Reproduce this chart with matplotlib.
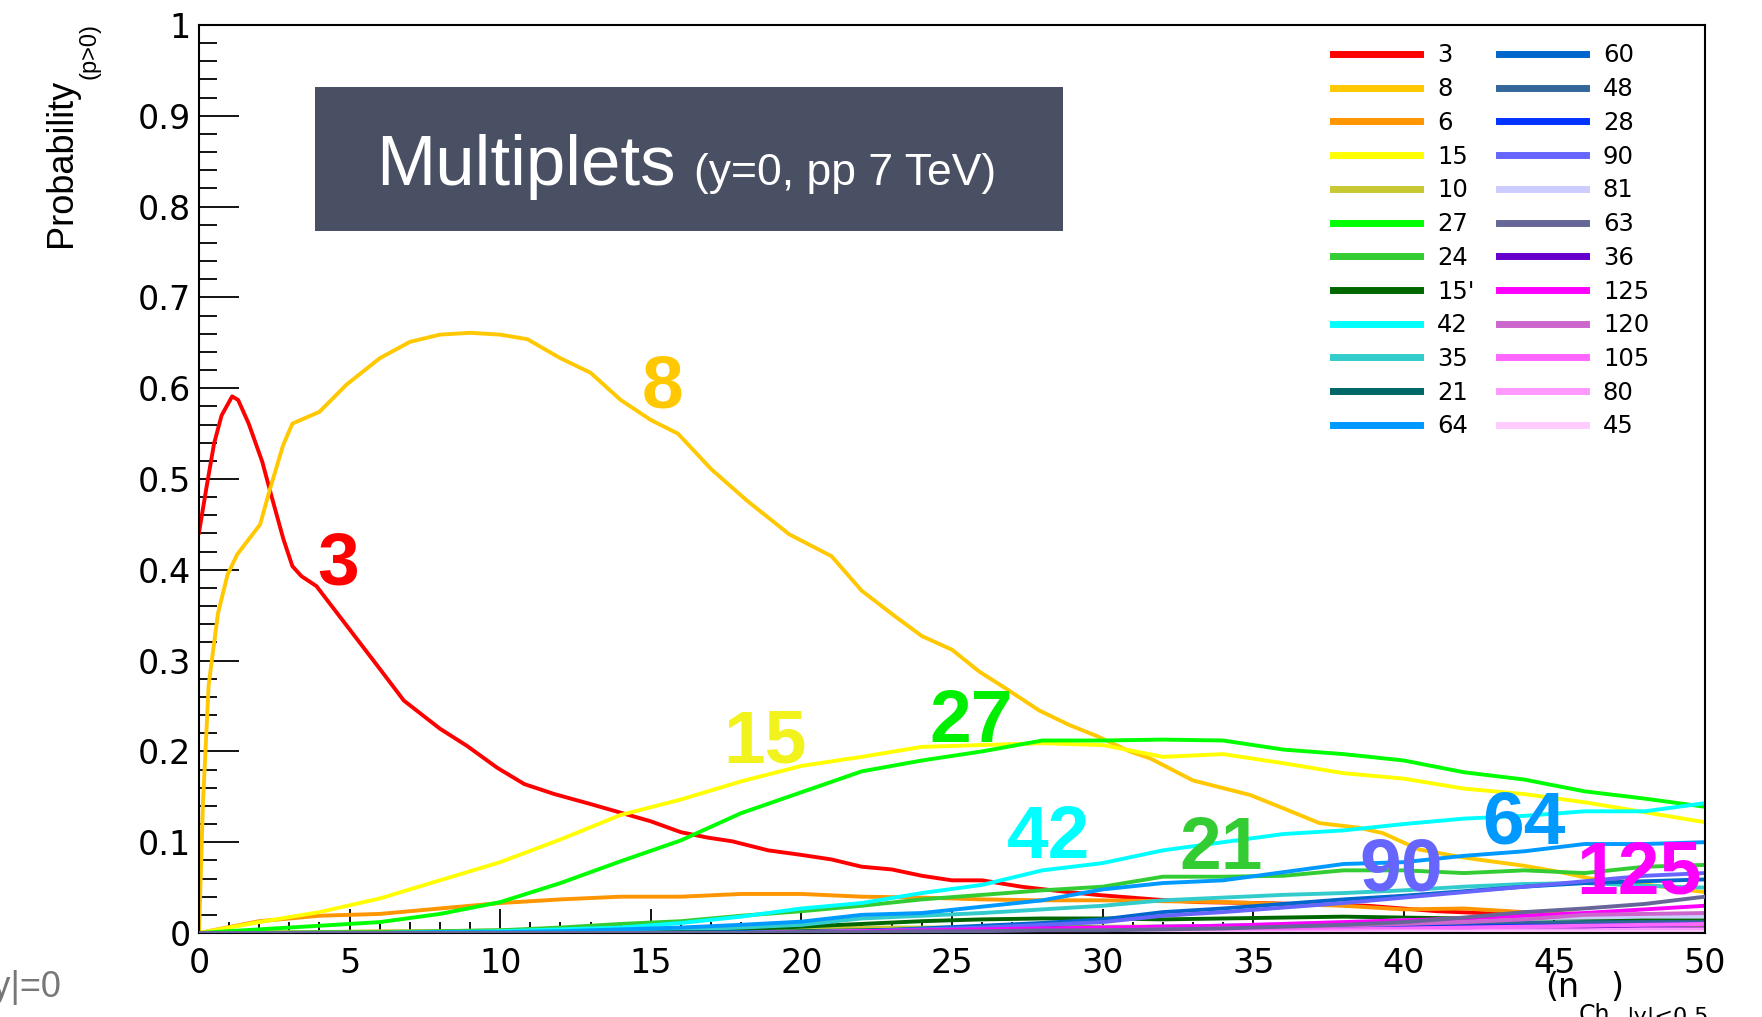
import matplotlib
matplotlib.use("Agg")
import matplotlib.pyplot as plt
from matplotlib.patches import Rectangle
from matplotlib.ticker import MultipleLocator, FormatStrFormatter

plt.rcParams['font.family'] = ['Liberation Sans', 'DejaVu Sans']

# ---- data ----
x_3 = [0, 0.25, 0.5, 0.75, 1.1, 1.3, 1.65, 2.1, 2.4, 2.8, 3.1, 3.4, 3.9, 4.8, 6, 6.8, 8, 8.9,
       9.9, 10.8, 11.8, 13, 15, 16, 16.9, 17.7, 18.9, 20, 21, 22, 23, 24, 25, 26, 27.3, 28.6,
       29.8, 31.7, 33.2, 35.2, 38.8, 41.1, 44.7, 47, 50]
y_3 = [0.441, 0.491, 0.539, 0.57, 0.591, 0.587, 0.561, 0.519, 0.482, 0.434, 0.404, 0.393, 0.382,
       0.343, 0.291, 0.256, 0.225, 0.206, 0.182, 0.164, 0.153, 0.142, 0.123, 0.111, 0.105, 0.101,
       0.091, 0.086, 0.081, 0.073, 0.07, 0.063, 0.058, 0.058, 0.051, 0.046, 0.042, 0.037, 0.034,
       0.033, 0.03, 0.024, 0.019, 0.017, 0.016]

x_8 = [0, 0.13, 0.32, 0.63, 0.95, 1.27, 2.03, 2.34, 2.79, 3.1, 4.0, 4.9, 6.0, 7.0, 8.0, 9.0, 10.0,
       10.9, 12.0, 13.0, 14.0, 15.0, 15.9, 17.0, 18.2, 19.6, 21.0, 22.0, 23.1, 24.0, 25.0, 25.9,
       26.8, 27.9, 28.9, 29.8, 30.9, 31.6, 33.0, 34.9, 36.1, 37.2, 38.5, 39.3, 40.5, 42.0, 44.0,
       45.2, 46.2, 47.0, 48.8, 50]
y_8 = [0, 0.142, 0.273, 0.352, 0.395, 0.417, 0.45, 0.487, 0.537, 0.561, 0.574, 0.604, 0.633,
       0.651, 0.659, 0.661, 0.659, 0.654, 0.633, 0.617, 0.587, 0.565, 0.55, 0.511, 0.476, 0.439,
       0.415, 0.377, 0.349, 0.327, 0.312, 0.288, 0.269, 0.245, 0.229, 0.217, 0.2, 0.192, 0.168,
       0.152, 0.136, 0.121, 0.116, 0.11, 0.092, 0.083, 0.074, 0.067, 0.06, 0.058, 0.05, 0.045]

# common grid for the other multiplets
x_grid = [0, 2, 4, 6, 8, 10, 12, 14, 16, 18, 20, 22, 24, 26, 28, 30, 32, 34, 36, 38, 40, 42, 44, 46, 48, 50]

y_6 = [0, 0.013, 0.019, 0.021, 0.027, 0.033, 0.037, 0.04, 0.04, 0.043, 0.043, 0.04, 0.039, 0.037,
       0.036, 0.036, 0.035, 0.034, 0.032, 0.03, 0.026, 0.027, 0.023, 0.021, 0.02, 0.019]
y_15 = [0, 0.012, 0.023, 0.038, 0.058, 0.078, 0.103, 0.13, 0.147, 0.167, 0.184, 0.194, 0.205, 0.207,
        0.209, 0.207, 0.194, 0.197, 0.187, 0.176, 0.17, 0.159, 0.153, 0.144, 0.133, 0.122]
y_10 = [0, 0.001, 0.001, 0.002, 0.002, 0.003, 0.003, 0.004, 0.004, 0.005, 0.005, 0.006, 0.006,
        0.006, 0.007, 0.007, 0.007, 0.007, 0.007, 0.007, 0.006, 0.006, 0.006, 0.006, 0.006, 0.006]
y_27 = [0, 0.004, 0.008, 0.012, 0.021, 0.034, 0.055, 0.079, 0.102, 0.132, 0.155, 0.178, 0.19, 0.2,
        0.212, 0.212, 0.213, 0.212, 0.202, 0.197, 0.19, 0.177, 0.169, 0.156, 0.148, 0.139]
y_24 = [0, 0, 0.001, 0.001, 0.002, 0.003, 0.006, 0.01, 0.013, 0.019, 0.024, 0.03, 0.037, 0.042,
        0.047, 0.051, 0.062, 0.062, 0.063, 0.069, 0.069, 0.066, 0.069, 0.066, 0.073, 0.075]
y_15p = [0, 0, 0, 0, 0, 0.001, 0.001, 0.001, 0.002, 0.004, 0.007, 0.01, 0.013, 0.015, 0.016, 0.016,
         0.015, 0.016, 0.017, 0.018, 0.017, 0.016, 0.016, 0.016, 0.015, 0.015]
y_42 = [0, 0, 0, 0, 0.001, 0.002, 0.004, 0.006, 0.011, 0.018, 0.027, 0.033, 0.044, 0.053, 0.069,
        0.077, 0.091, 0.1, 0.109, 0.113, 0.12, 0.126, 0.129, 0.134, 0.134, 0.143]
y_35 = [0, 0, 0, 0, 0, 0, 0.001, 0.002, 0.004, 0.006, 0.009, 0.016, 0.019, 0.022, 0.026, 0.03,
        0.036, 0.039, 0.042, 0.044, 0.047, 0.051, 0.054, 0.055, 0.052, 0.05]
y_21 = [0, 0, 0, 0, 0, 0, 0, 0, 0.001, 0.001, 0.002, 0.003, 0.004, 0.005, 0.006, 0.006, 0.007,
        0.008, 0.009, 0.01, 0.01, 0.011, 0.011, 0.012, 0.012, 0.012]
y_64 = [0, 0, 0, 0, 0.001, 0.001, 0.002, 0.004, 0.006, 0.009, 0.0125, 0.02, 0.022, 0.029, 0.036,
        0.048, 0.055, 0.058, 0.067, 0.076, 0.078, 0.085, 0.09, 0.098, 0.098, 0.1]
y_60 = [0, 0, 0, 0, 0, 0, 0, 0, 0, 0.001, 0.001, 0.002, 0.005, 0.008, 0.011, 0.015, 0.023, 0.027,
        0.032, 0.037, 0.041, 0.046, 0.051, 0.055, 0.057, 0.059]
y_48 = [0, 0, 0, 0, 0, 0, 0, 0, 0, 0, 0.001, 0.001, 0.002, 0.003, 0.003, 0.004, 0.005, 0.006,
        0.007, 0.008, 0.009, 0.01, 0.011, 0.011, 0.012, 0.012]
y_28 = [0, 0, 0, 0, 0, 0, 0, 0, 0, 0, 0, 0, 0.001, 0.001, 0.002, 0.003, 0.003, 0.004, 0.005,
        0.006, 0.006, 0.007, 0.008, 0.008, 0.009, 0.01]
y_90 = [0, 0, 0, 0, 0, 0, 0, 0, 0, 0, 0.001, 0.002, 0.004, 0.006, 0.009, 0.012, 0.019, 0.023,
        0.028, 0.033, 0.039, 0.045, 0.051, 0.057, 0.063, 0.066]
y_81 = [0, 0, 0, 0, 0, 0, 0, 0, 0, 0, 0.001, 0.002, 0.002, 0.003, 0.004, 0.006, 0.007, 0.008,
        0.01, 0.012, 0.014, 0.015, 0.016, 0.017, 0.018, 0.018]
y_63 = [0, 0, 0, 0, 0, 0, 0, 0, 0, 0, 0.001, 0.001, 0.002, 0.002, 0.003, 0.003, 0.004, 0.005,
        0.007, 0.009, 0.012, 0.017, 0.023, 0.027, 0.032, 0.04]
y_36 = [0, 0, 0, 0, 0, 0, 0, 0, 0, 0, 0, 0, 0.001, 0.001, 0.001, 0.002, 0.002, 0.002, 0.003,
        0.003, 0.003, 0.004, 0.004, 0.004, 0.005, 0.005]
y_125 = [0, 0, 0, 0, 0, 0, 0, 0, 0, 0, 0.001, 0.002, 0.003, 0.004, 0.005, 0.006, 0.007, 0.008,
         0.01, 0.012, 0.014, 0.016, 0.019, 0.022, 0.026, 0.03]
y_120 = [0, 0, 0, 0, 0, 0, 0, 0, 0, 0, 0, 0, 0.001, 0.001, 0.002, 0.003, 0.004, 0.005, 0.006,
         0.008, 0.01, 0.012, 0.015, 0.02, 0.021, 0.022]
y_105 = [0, 0, 0, 0, 0, 0, 0, 0, 0, 0, 0, 0, 0, 0, 0.001, 0.001, 0.002, 0.002, 0.003, 0.004,
         0.005, 0.006, 0.007, 0.008, 0.009, 0.01]
y_80 = [0, 0, 0, 0, 0, 0, 0, 0, 0, 0, 0, 0, 0, 0, 0, 0, 0.001, 0.001, 0.001, 0.002, 0.002,
        0.002, 0.003, 0.003, 0.004, 0.004]
y_45 = [0, 0, 0, 0, 0, 0, 0, 0, 0, 0, 0, 0, 0, 0, 0, 0, 0, 0, 0, 0, 0.001, 0.001, 0.001, 0.001,
        0.001, 0.001]

# legend order: (label, x, y, colour)
series = [
    ("3", x_3, y_3, "#ff0000"),
    ("8", x_8, y_8, "#ffc800"),
    ("6", x_grid, y_6, "#ff9500"),
    ("15", x_grid, y_15, "#ffff00"),
    ("10", x_grid, y_10, "#c8c832"),
    ("27", x_grid, y_27, "#00ff00"),
    ("24", x_grid, y_24, "#33cc33"),
    ("15'", x_grid, y_15p, "#006600"),
    ("42", x_grid, y_42, "#00ffff"),
    ("35", x_grid, y_35, "#33cccc"),
    ("21", x_grid, y_21, "#006666"),
    ("64", x_grid, y_64, "#0099ff"),
    ("60", x_grid, y_60, "#0066cc"),
    ("48", x_grid, y_48, "#336699"),
    ("28", x_grid, y_28, "#0033ff"),
    ("90", x_grid, y_90, "#6666ff"),
    ("81", x_grid, y_81, "#ccccff"),
    ("63", x_grid, y_63, "#666699"),
    ("36", x_grid, y_36, "#6600cc"),
    ("125", x_grid, y_125, "#ff00ff"),
    ("120", x_grid, y_120, "#cc66cc"),
    ("105", x_grid, y_105, "#ff66ff"),
    ("80", x_grid, y_80, "#ff99ff"),
    ("45", x_grid, y_45, "#ffccff"),
]

# big labels drawn on the curves: text, x, baseline y, colour
curve_labels = [
    ("3", 4.62, 0.384, "#ff0000"),
    ("8", 15.4, 0.579, "#ffc800"),
    ("15", 18.8, 0.188, "#f2f21c"),
    ("27", 25.65, 0.21, "#00ee00"),
    ("42", 28.2, 0.083, "#00ffff"),
    ("21", 33.93, 0.0705, "#33cc33"),
    ("90", 39.9, 0.047, "#6666ff"),
    ("64", 44.0, 0.099, "#0099ff"),
    ("125", 47.8, 0.043, "#ff00ff"),
]

W, H = 1762, 1017
fig = plt.figure(figsize=(W / 100, H / 100), dpi=100)
fig.patch.set_facecolor('white')
ax = fig.add_axes([199 / W, 1 - 933 / H, (1705 - 199) / W, (933 - 25) / H])

for lab, xs, ys, col in series:
    z = 3 if lab == "63" else 2
    ax.plot(xs, ys, color=col, lw=2.8, label=lab, solid_joinstyle='round', zorder=z)

ax.set_xlim(0, 50)
ax.set_ylim(0, 1)

# title box
ax.add_patch(Rectangle((3.85, 0.773), 24.85, 0.159, facecolor='#4a5063', edgecolor='none', zorder=1))
ax.text(5.88, 0.824, "Multiplets", color='white', fontsize=51, ha='left', va='baseline', zorder=2)
ax.text(16.43, 0.824, "(y=0, pp 7 TeV)", color='white', fontsize=32, ha='left', va='baseline', zorder=2)

for txt, lx, ly, col in curve_labels:
    ax.text(lx, ly, txt, color=col, fontsize=54, fontweight='bold', ha='center', va='baseline', zorder=5)

# axes styling, ROOT-like
ax.xaxis.set_major_locator(MultipleLocator(5))
ax.xaxis.set_minor_locator(MultipleLocator(1))
ax.yaxis.set_major_locator(MultipleLocator(0.1))
ax.yaxis.set_minor_locator(MultipleLocator(0.02))
ax.yaxis.set_major_formatter(FormatStrFormatter('%g'))
ax.xaxis.set_major_formatter(FormatStrFormatter('%g'))
ax.tick_params(axis='both', which='both', direction='in', top=False, right=False, width=1.3, labelsize=24)
ax.tick_params(axis='y', which='major', length=29, pad=6)
ax.tick_params(axis='y', which='minor', length=13)
ax.tick_params(axis='x', which='major', length=17, pad=10)
ax.tick_params(axis='x', which='minor', length=8)
for lbl in ax.get_xticklabels() + ax.get_yticklabels():
    lbl.set_fontfamily('DejaVu Sans')
for sp in ax.spines.values():
    sp.set_linewidth(1.5)

leg = ax.legend(ncol=2, loc='upper left', bbox_to_anchor=(1333 / W, 1 - 43.5 / H),
                bbox_transform=fig.transFigure, frameon=False,
                prop={'family': 'DejaVu Sans', 'size': 17.5},
                handlelength=3.58, handletextpad=0.7, columnspacing=1.0,
                labelspacing=0.40, borderpad=0, borderaxespad=0)
for ln in leg.get_lines():
    ln.set_linewidth(5)

# y title with its subscript
fig.text(62 / W, 1 - 247 / H, 'Probability', rotation=90, ha='center', va='bottom', fontsize=26)
fig.text(90 / W, 1 - 23 / H, '(p>0)', rotation=90, ha='center', va='top', fontsize=17)

# x title, pieces set like the ROOT (n_Ch)_{|y|<0.5}
fig.text(1545 / W, 1 - 997 / H, '(n', ha='left', va='baseline', fontsize=24, family='DejaVu Sans')
fig.text(1579 / W, 1 - 1022 / H, 'Ch', ha='left', va='baseline', fontsize=17, family='DejaVu Sans')
fig.text(1610 / W, 1 - 997 / H, ')', ha='left', va='baseline', fontsize=24, family='DejaVu Sans')
fig.text(1626 / W, 1 - 1022 / H, '|y|<0.5', ha='left', va='baseline', fontsize=16, family='DejaVu Sans')

fig.text(62 / W, 1 - 997 / H, '|y|=0', ha='right', va='baseline', fontsize=26, color='#777777')

fig.savefig('out.png', dpi=100, facecolor='white')
